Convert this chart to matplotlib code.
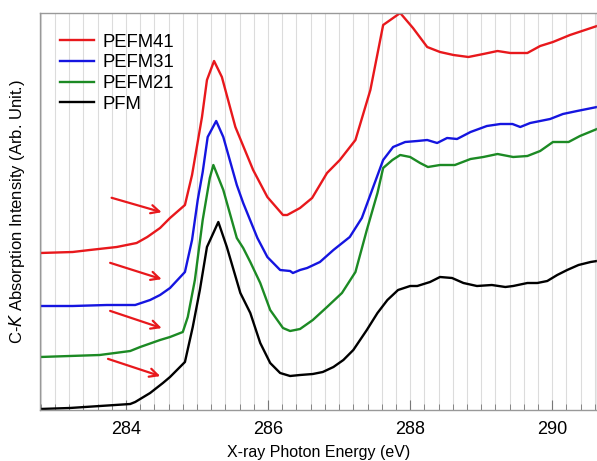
import matplotlib
matplotlib.use("Agg")
import matplotlib.pyplot as plt
from matplotlib.ticker import MultipleLocator

plt.rcParams['font.family'] = ['Liberation Sans', 'DejaVu Sans']

# PFM (black)
pfm_e = [282.79, 283.21, 284.06, 284.13, 284.34, 284.52, 284.62, 284.83, 284.94, 285.04,
         285.14, 285.30, 285.42, 285.61, 285.75, 285.89, 286.03, 286.17, 286.31, 286.45,
         286.63, 286.77, 286.92, 287.06, 287.20, 287.39, 287.54, 287.68, 287.83, 288.00,
         288.10, 288.28, 288.42, 288.59, 288.75, 288.94, 289.15, 289.34, 289.45, 289.65,
         289.79, 289.93, 290.07, 290.21, 290.37, 290.54, 290.63]
pfm_i = [1, 2, 6, 8, 17, 27, 33, 48, 83, 120,
         163, 188, 163, 117, 97, 67, 47, 37, 34, 35,
         36, 38, 43, 50, 60, 80, 97, 110, 120, 124,
         124, 128, 133, 132, 127, 124, 125, 123, 124, 127,
         127, 129, 135, 140, 145, 148, 149]

# PEFM21 (green)
pefm21_e = [282.79, 283.63, 284.06, 284.20, 284.48, 284.62, 284.80, 284.87, 284.97, 285.08,
            285.18, 285.23, 285.37, 285.56, 285.65, 285.75, 285.89, 286.03, 286.21, 286.31,
            286.45, 286.63, 286.83, 287.04, 287.23, 287.39, 287.54, 287.62, 287.75, 287.86,
            288.00, 288.14, 288.25, 288.42, 288.63, 288.85, 289.03, 289.23, 289.45, 289.65,
            289.83, 290.01, 290.23, 290.39, 290.63]
pefm21_i = [53, 55, 59, 63, 70, 73, 78, 93, 130, 190,
            232, 245, 220, 172, 162, 148, 127, 100, 82, 79,
            81, 90, 103, 117, 138, 180, 217, 242, 250, 255,
            253, 247, 243, 245, 245, 251, 253, 256, 253, 254,
            259, 268, 268, 274, 281]

# PEFM31 (blue)
pefm31_e = [282.79, 283.25, 283.73, 284.13, 284.34, 284.48, 284.62, 284.83, 284.93, 285.01,
            285.08, 285.15, 285.27, 285.37, 285.56, 285.65, 285.85, 285.99, 286.17, 286.31,
            286.35, 286.45, 286.55, 286.73, 286.92, 287.15, 287.32, 287.48, 287.62, 287.76,
            287.93, 288.10, 288.24, 288.38, 288.52, 288.66, 288.85, 289.08, 289.27, 289.44,
            289.55, 289.69, 289.97, 290.15, 290.35, 290.63]
pefm31_i = [104, 104, 105, 105, 110, 115, 122, 138, 170, 210,
            238, 273, 289, 273, 225, 207, 172, 153, 140, 139,
            137, 140, 142, 148, 160, 173, 192, 223, 250, 263,
            268, 269, 270, 267, 272, 271, 278, 284, 286, 286,
            283, 287, 291, 296, 299, 303]

# PEFM41 (red)
pefm41_e = [282.79, 283.25, 283.49, 283.87, 284.15, 284.30, 284.48, 284.62, 284.83, 284.93,
            285.07, 285.14, 285.24, 285.35, 285.54, 285.79, 285.99, 286.21, 286.27, 286.45,
            286.62, 286.83, 287.01, 287.23, 287.44, 287.62, 287.86, 288.04, 288.24, 288.42,
            288.61, 288.82, 289.03, 289.23, 289.41, 289.65, 289.83, 290.01, 290.25, 290.63]
pefm41_i = [157, 158, 160, 163, 167, 173, 182, 192, 205, 235,
            293, 330, 349, 333, 283, 240, 213, 195, 195, 202,
            212, 237, 250, 270, 320, 385, 397, 382, 363, 358,
            355, 353, 356, 359, 357, 357, 364, 368, 375, 384]

labels = ["PEFM41", "PEFM31", "PEFM21", "PFM"]
colors = ["#e8181c", "#1515e0", "#1c8a24", "#000000"]

# arrow annotations: (start_e, start_i, end_e, end_i)
arrows = [(283.76, 213, 284.54, 197),
          (283.74, 148, 284.54, 130),
          (283.74, 100, 284.54, 81),
          (283.71, 52, 284.52, 33)]

fig = plt.figure(figsize=(5.97, 4.61), dpi=100)
ax = fig.add_axes([40/597, 1 - 410/461, 1 - 40/597, (410 - 13)/461])

series = [(pefm41_e, pefm41_i), (pefm31_e, pefm31_i), (pefm21_e, pefm21_i), (pfm_e, pfm_i)]
for (e, i), lab, c in zip(series, labels, colors):
    ax.plot(e, i, color=c, lw=1.7, label=lab, solid_joinstyle='round')

for x0, y0, x1, y1 in arrows:
    ax.annotate("", xy=(x1, y1), xytext=(x0, y0),
                arrowprops=dict(arrowstyle="->,head_length=0.6,head_width=0.3",
                                color="#e8181c", lw=1.6))

ax.set_xlim(282.79, 290.63)
ax.set_ylim(0, 397)
ax.xaxis.set_major_locator(MultipleLocator(2))
ax.xaxis.set_minor_locator(MultipleLocator(0.2))
ax.grid(True, which='both', axis='x', color='#dcdcdc', lw=0.8)
ax.set_axisbelow(True)
ax.set_yticks([])
ax.tick_params(axis='x', which='major', direction='in', length=7, width=0.8,
               color='#777777', labelsize=13, pad=8)
ax.tick_params(axis='x', which='minor', direction='in', length=4, width=0.6,
               color='#777777')
for s in ax.spines.values():
    s.set_color('#999999')
    s.set_linewidth(1.0)

ax.set_xlabel("X-ray Photon Energy (eV)", fontsize=11.5, labelpad=5)
ax.set_ylabel(r"C-$\it{K}$ Absorption Intensity (Arb. Unit.)", fontsize=12, labelpad=9)

leg = ax.legend(loc='upper left', frameon=False, fontsize=13.3, handlelength=1.8,
                handletextpad=0.5, labelspacing=0.2, borderaxespad=0.4,
                bbox_to_anchor=(0.01, 0.985))

fig.savefig("out.png", dpi=100)
